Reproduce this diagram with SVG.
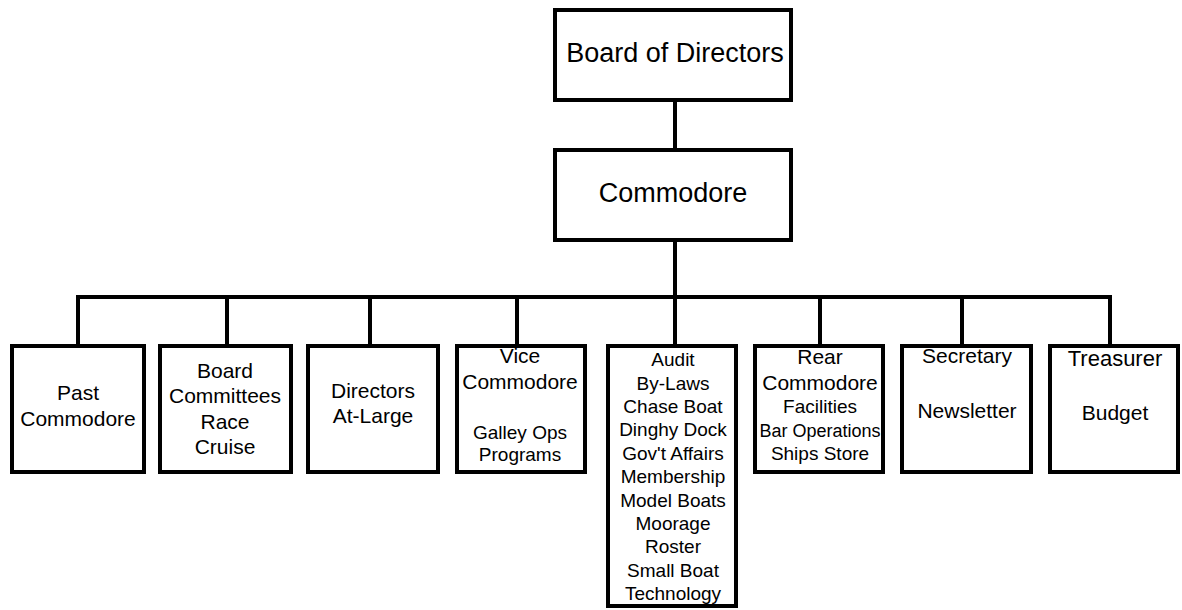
<svg xmlns="http://www.w3.org/2000/svg" width="1182" height="610" viewBox="0 0 1182 610">
<style>
.box{fill:#fff;stroke:#000;stroke-width:4}
.ln{fill:none;stroke:#000;stroke-width:4;stroke-linecap:square}
text{font-family:"Liberation Sans",Arial,sans-serif;fill:#000;text-anchor:middle}
.t1{font-size:27px}
.t2{font-size:21px}
.t3{font-size:19px}
</style>
<rect width="1182" height="610" fill="#fff"/>
<g id="connectors">
<path class="ln" d="M675 100V150"/>
<path class="ln" d="M675 240V297"/>
<path class="ln" d="M78 297H1110"/>
<path class="ln" d="M78 297V346M227 297V346M370 297V346M517 297V346M675 297V346M820 297V346M962 297V346M1110 297V346"/>
</g>
<g id="board"><rect class="box" x="555" y="10" width="236" height="90"/><text class="t1" x="675" y="62">Board of Directors</text></g>
<g id="commodore"><rect class="box" x="555" y="150" width="236" height="90"/><text class="t1" x="673" y="202">Commodore</text></g>
<g id="past"><rect class="box" x="12" y="346" width="132" height="126"/><text class="t2" x="78" y="400">Past</text><text class="t2" x="78" y="426">Commodore</text></g>
<g id="committees"><rect class="box" x="160" y="346" width="131" height="126"/><text class="t2" x="225" y="378">Board</text><text class="t2" x="225" y="403">Committees</text><text class="t2" x="225" y="429">Race</text><text class="t2" x="225" y="454">Cruise</text></g>
<g id="directors"><rect class="box" x="308" y="346" width="130" height="126"/><text class="t2" x="373" y="398">Directors</text><text class="t2" x="373" y="423">At-Large</text></g>
<g id="vice"><rect class="box" x="457" y="346" width="128" height="126"/><text class="t2" x="520" y="363">Vice</text><text class="t2" x="520" y="389">Commodore</text><text class="t3" x="520" y="439">Galley Ops</text><text class="t3" x="520" y="461">Programs</text></g>
<g id="committees2"><rect class="box" x="608" y="346" width="128" height="260"/>
<text class="t3" x="673" y="366">Audit</text><text class="t3" x="673" y="390">By-Laws</text><text class="t3" x="673" y="413">Chase Boat</text><text class="t3" x="673" y="436">Dinghy Dock</text><text class="t3" x="673" y="460">Gov't Affairs</text><text class="t3" x="673" y="483">Membership</text><text class="t3" x="673" y="507">Model Boats</text><text class="t3" x="673" y="530">Moorage</text><text class="t3" x="673" y="553">Roster</text><text class="t3" x="673" y="577">Small Boat</text><text class="t3" x="673" y="600">Technology</text></g>
<g id="rear"><rect class="box" x="755" y="346" width="128" height="126"/><text class="t2" x="820" y="364">Rear</text><text class="t2" x="820" y="390">Commodore</text><text class="t3" x="820" y="413">Facilities</text><text class="t3" x="820" y="437" style="font-size:18px">Bar Operations</text><text class="t3" x="820" y="460">Ships Store</text></g>
<g id="secretary"><rect class="box" x="902" y="346" width="129" height="126"/><text class="t2" x="967" y="363">Secretary</text><text class="t2" x="967" y="418">Newsletter</text></g>
<g id="treasurer"><rect class="box" x="1050" y="346" width="128" height="126"/><text class="t2" x="1115" y="366" style="font-size:22px">Treasurer</text><text class="t2" x="1115" y="420">Budget</text></g>
</svg>
